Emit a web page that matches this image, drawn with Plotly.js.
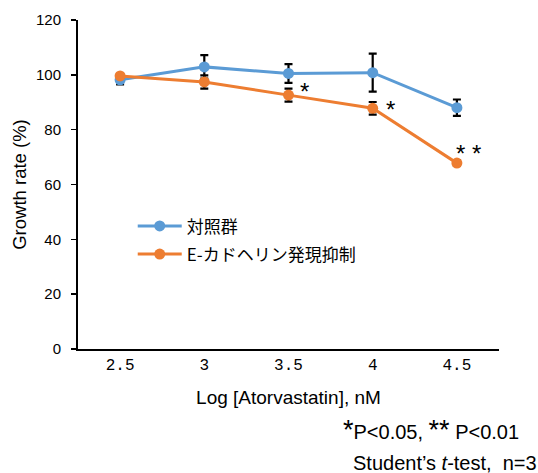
<!DOCTYPE html>
<html>
<head>
<meta charset="utf-8">
<script src="https://cdn.plot.ly/plotly-3.0.1.min.js"></script>
<style>html,body{margin:0;padding:0;background:#fff;}#chart{width:538px;height:473px;}</style>
</head>
<body>
<div id="chart"></div>
<script>
const logConc = [2.5, 3, 3.5, 4, 4.5];
const tickLabels = ["2.5", "3", "3.5", "4", "4.5"];
const controlName = "対照群";
const controlValues = [98.2, 102.9, 100.5, 100.8, 88.0];
const controlErr = [1.7, 4.3, 3.4, 6.9, 3.0];
const knockdownName = "E-カドヘリン発現抑制";
const knockdownValues = [99.6, 97.4, 92.6, 87.8, 67.8];
const knockdownErr = [0.6, 2.4, 2.4, 2.3, 1.0];
const significance = ["", "", "*", "*", "* *"];

const cjk = '"Noto Sans CJK JP", "Liberation Sans", sans-serif';
const blue = '#5B9BD5', orange = '#ED7D31';

function trace(name, y, err, color, group) {
  return {
    x: logConc, y: y, name: name, type: 'scatter', mode: 'lines+markers',
    legendgroup: group,
    line: {color: color, width: 3},
    marker: {color: color, size: 11},
    error_y: {type: 'data', array: err, visible: true, color: '#000', thickness: 2.2, width: 4}
  };
}

// label offsets (pixels) relative to the marked point
const starShiftX = [0, 0, 9, 11, 12];
const starShiftY = [0, 0, 4, -1, 10];
const annotations = [];
significance.forEach((s, i) => {
  if (!s) return;
  const last = i === significance.length - 1;
  annotations.push({
    x: logConc[i], y: knockdownValues[i], xref: 'x', yref: 'y',
    text: s, showarrow: false, xanchor: last ? 'center' : 'left', yanchor: 'middle',
    xshift: starShiftX[i], yshift: starShiftY[i],
    font: {family: '"Liberation Sans", sans-serif', size: 24, color: '#000'}
  });
});
annotations.push({
  xref: 'paper', yref: 'paper', x: 1.052, y: -0.245, xanchor: 'right', yanchor: 'middle',
  text: '<span style="font-size:27px">*</span>P<0.05, <span style="font-size:27px">**</span> P<0.01',
  showarrow: false, font: {family: '"Liberation Sans", sans-serif', size: 20, color: '#000'}
});
annotations.push({
  xref: 'paper', yref: 'paper', x: 1.095, y: -0.345, xanchor: 'right', yanchor: 'middle',
  text: 'Student\u2019s <i>t</i>-test,  n=3',
  showarrow: false, font: {family: '"Liberation Sans", sans-serif', size: 20, color: '#000'}
});

const layout = {
  width: 538, height: 473,
  margin: {l: 78, r: 39, t: 20, b: 124},
  paper_bgcolor: '#fff', plot_bgcolor: '#fff',
  showlegend: true,
  legend: {x: 0.13, y: 0.33, xanchor: 'left', yanchor: 'middle', bgcolor: 'rgba(0,0,0,0)',
    font: {family: cjk, size: 17, color: '#000'}, itemwidth: 44, tracegroupgap: 3},
  xaxis: {
    range: [2.25, 4.75], tickvals: logConc, ticktext: tickLabels,
    showgrid: false, zeroline: false, showline: true, linecolor: '#000', linewidth: 2,
    ticks: '', tickfont: {family: '"Liberation Mono", monospace', size: 16, color: '#000'},
    title: {text: 'Log [Atorvastatin], nM', standoff: 16, font: {family: '"Liberation Sans", sans-serif', size: 19, color: '#000'}},
    fixedrange: true
  },
  yaxis: {
    range: [0, 120], dtick: 20, showgrid: false, zeroline: false, showline: true,
    linecolor: '#000', linewidth: 2, ticks: 'outside', ticklen: 5, tickwidth: 1.5, tickcolor: '#000',
    ticklabelstandoff: 7,
    tickfont: {family: '"Liberation Sans", sans-serif', size: 15, color: '#000'},
    title: {text: 'Growth rate (%)', standoff: 4, font: {family: '"Liberation Sans", sans-serif', size: 18.5, color: '#000'}},
    fixedrange: true
  },
  annotations: annotations
};

Plotly.newPlot('chart', [
  trace(controlName, controlValues, controlErr, blue, 'a'),
  trace(knockdownName, knockdownValues, knockdownErr, orange, 'b')
], layout, {displayModeBar: false, staticPlot: true});
</script>
</body>
</html>
